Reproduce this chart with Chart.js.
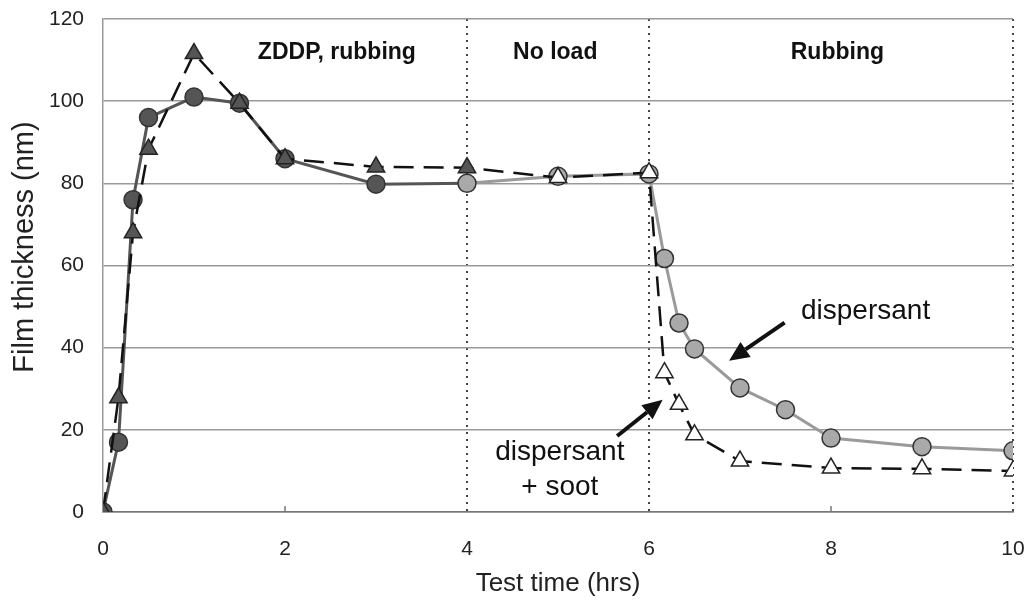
<!DOCTYPE html>
<html>
<head>
<meta charset="utf-8">
<script src="https://cdn.jsdelivr.net/npm/chart.js@4.4.1/dist/chart.umd.min.js"></script>
<style>
    body { margin: 0; background: #fff; }
</style>
</head>
<body>
<canvas id="film-chart" width="1035" height="605"></canvas>
<script>
// dispersant (circles)
const dispTime = [0, 0.17, 0.33, 0.5, 1, 1.5, 2, 3, 4, 5, 6, 6.17, 6.33, 6.5, 7, 7.5, 8, 9, 10];
const dispFilm = [0, 17, 76, 96, 101, 99.5, 86, 79.8, 80, 81.7, 82.3, 61.7, 46, 39.7, 30.2, 24.9, 18, 15.9, 14.9];

// dispersant + soot (triangles)
const sootTime = [0, 0.17, 0.33, 0.5, 1, 1.5, 2, 3, 4, 5, 6, 6.17, 6.33, 6.5, 7, 8, 9, 10];
const sootFilm = [0, 27.8, 68, 88.3, 111.6, 99.5, 86, 84, 83.8, 81.4, 82.6, 33.9, 26.2, 18.8, 12.4, 10.7, 10.5, 10];

const yTicks = [0, 20, 40, 60, 80, 100, 120];
const xTicks = [0, 2, 4, 6, 8, 10];
const phaseBounds = [4, 6, 10];
const phaseLabels = ['ZDDP, rubbing', 'No load', 'Rubbing'];
const phaseLabelX = [2.57, 4.97, 8.07];

const toPoints = (xs, ys) => xs.map((x, i) => ({ x: x, y: ys[i] }));

const FONT = '"Liberation Sans", Arial, sans-serif';

function drawArrow(ctx, x1, y1, x2, y2) {
    const ang = Math.atan2(y2 - y1, x2 - x1);
    const head = 20, half = 9;
    const bx = x2 - Math.cos(ang) * head, by = y2 - Math.sin(ang) * head;
    ctx.beginPath();
    ctx.moveTo(x1, y1);
    ctx.lineTo(bx, by);
    ctx.lineWidth = 4;
    ctx.strokeStyle = '#111';
    ctx.stroke();
    ctx.beginPath();
    ctx.moveTo(x2, y2);
    ctx.lineTo(bx - Math.sin(ang) * half, by + Math.cos(ang) * half);
    ctx.lineTo(bx + Math.sin(ang) * half, by - Math.cos(ang) * half);
    ctx.closePath();
    ctx.fillStyle = '#111';
    ctx.fill();
}

// phase labels, callouts, y title and the small axis ticks
const annotate = {
    id: 'annotate',
    beforeDatasetsDraw(chart) {
        const { ctx, scales: { x, y } } = chart;
        ctx.save();
        ctx.strokeStyle = '#777';
        ctx.lineWidth = 1.5;
        xTicks.forEach(v => {
            if (v === 0 || phaseBounds.includes(v)) return;
            const px = x.getPixelForValue(v);
            ctx.beginPath();
            ctx.moveTo(px, y.bottom);
            ctx.lineTo(px, y.bottom - 6);
            ctx.stroke();
        });

        // y title sits a little above the middle of the axis
        ctx.translate(25, y.getPixelForValue(64.5));
        ctx.rotate(-Math.PI / 2);
        ctx.fillStyle = '#222';
        ctx.textAlign = 'center';
        ctx.textBaseline = 'middle';
        ctx.font = '29px ' + FONT;
        ctx.fillText('Film thickness (nm)', 0, 0);
        ctx.restore();
    },
    afterDatasetsDraw(chart) {
        const { ctx, scales: { x, y } } = chart;
        ctx.save();
        ctx.fillStyle = '#111';
        ctx.textAlign = 'center';
        ctx.textBaseline = 'middle';
        ctx.font = 'bold 23px ' + FONT;
        phaseLabels.forEach((t, i) => {
            ctx.fillText(t, x.getPixelForValue(phaseLabelX[i]), y.getPixelForValue(111.7));
        });

        ctx.font = '28px ' + FONT;
        ctx.fillText('dispersant', x.getPixelForValue(8.38), y.getPixelForValue(48.8));
        ctx.fillText('dispersant', x.getPixelForValue(5.02), y.getPixelForValue(14.6));
        ctx.fillText('+ soot', x.getPixelForValue(5.02), y.getPixelForValue(6.1));

        drawArrow(ctx, x.getPixelForValue(7.49), y.getPixelForValue(46.1),
            x.getPixelForValue(6.88), y.getPixelForValue(36.8));
        drawArrow(ctx, x.getPixelForValue(5.65), y.getPixelForValue(18.5),
            x.getPixelForValue(6.15), y.getPixelForValue(27.3));
        ctx.restore();
    }
};

const ctx = document.getElementById('film-chart').getContext('2d');

new Chart(ctx, {
    type: 'line',
    data: {
        datasets: [{
            label: 'dispersant + soot',
            data: toPoints(sootTime, sootFilm),
            borderColor: '#111',
            borderWidth: 2.5,
            borderDash: [20, 10],
            pointStyle: 'triangle',
            pointRadius: 10,
            pointBorderWidth: 1.5,
            pointBorderColor: '#222',
            pointBackgroundColor: sootTime.map(t => t <= 4 ? '#555' : '#fff'),
            order: 0
        }, {
            label: 'dispersant',
            data: toPoints(dispTime, dispFilm),
            borderWidth: 3,
            borderColor: '#555',
            segment: {
                borderColor: c => c.p0.parsed.x < 4 ? '#555' : '#9a9a9a'
            },
            pointStyle: 'circle',
            pointRadius: 9,
            pointBorderWidth: 1.5,
            pointBorderColor: '#333',
            pointBackgroundColor: dispTime.map(t => t < 4 ? '#555' : '#a9a9a9'),
            order: 1
        }]
    },
    options: {
        responsive: false,
        animation: false,
        layout: { padding: { top: 19, right: 22, left: 0, bottom: 0 } },
        plugins: {
            legend: { display: false },
            tooltip: { enabled: false }
        },
        scales: {
            x: {
                type: 'linear',
                min: 0,
                max: 10,
                afterFit: s => { s.height = 93; },
                afterBuildTicks: s => { s.ticks = xTicks.map(v => ({ value: v })); },
                ticks: {
                    padding: 0,
                    color: '#222',
                    font: { family: FONT, size: 21 }
                },
                grid: {
                    drawTicks: true,
                    tickLength: 25,
                    tickColor: 'rgba(0,0,0,0)',
                    lineWidth: 2,
                    color: c => phaseBounds.includes(c.tick.value) ? '#444' : 'rgba(0,0,0,0)'
                },
                border: { color: '#777', width: 1.5, dash: [2, 5] },
                title: {
                    display: true,
                    text: 'Test time (hrs)',
                    color: '#222',
                    font: { family: FONT, size: 26 },
                    padding: { top: 0, bottom: 6 }
                }
            },
            y: {
                min: 0,
                max: 120,
                afterFit: s => { s.width = 103; },
                afterBuildTicks: s => { s.ticks = yTicks.map(v => ({ value: v })); },
                ticks: {
                    padding: 0,
                    color: '#222',
                    font: { family: FONT, size: 21 }
                },
                grid: {
                    drawTicks: true,
                    tickLength: 19,
                    tickColor: 'rgba(0,0,0,0)',
                    color: '#999',
                    lineWidth: 1.5
                },
                border: { color: '#999', width: 1.5 },
                title: { display: false }
            }
        }
    },
    plugins: [annotate]
});
</script>
</body>
</html>
